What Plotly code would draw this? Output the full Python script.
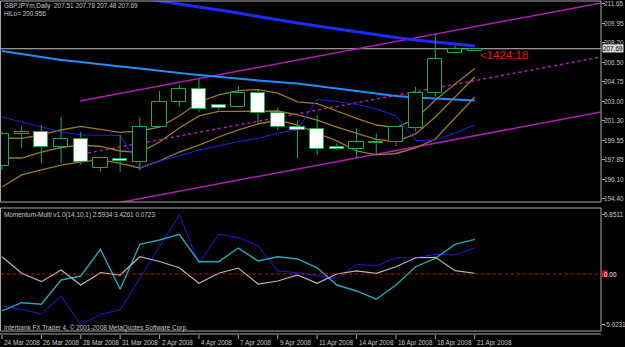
import plotly.graph_objects as go

# ---------------- data ----------------
dates = ["24 Mar 2008", "25 Mar 2008", "26 Mar 2008", "27 Mar 2008", "28 Mar 2008", "30 Mar 2008",
         "31 Mar 2008", "1 Apr 2008", "2 Apr 2008", "3 Apr 2008", "4 Apr 2008", "6 Apr 2008",
         "7 Apr 2008", "8 Apr 2008", "9 Apr 2008", "10 Apr 2008", "11 Apr 2008", "13 Apr 2008",
         "14 Apr 2008", "15 Apr 2008", "16 Apr 2008", "17 Apr 2008", "18 Apr 2008", "20 Apr 2008",
         "21 Apr 2008"]
open_ = [197.31, 200.14, 200.30, 198.97, 199.68, 197.11, 197.93, 197.69, 200.79, 203.00, 204.10, 202.71,
         202.51, 203.75, 201.98, 200.74, 200.56, 198.97, 198.82, 199.32, 199.41, 200.65, 203.75, 207.29, 207.51]
high = [200.32, 200.88, 200.94, 201.68, 200.35, 198.02, 200.06, 201.62, 203.95, 204.48, 205.01, 202.75,
        204.39, 204.10, 202.51, 201.32, 201.83, 199.32, 200.65, 200.21, 200.85, 204.33, 209.00, 207.96, 207.78]
low = [196.96, 198.88, 197.55, 197.55, 197.40, 196.81, 196.81, 196.90, 200.75, 202.56, 202.12, 202.27,
       202.47, 201.09, 200.44, 197.99, 198.29, 198.73, 197.99, 198.29, 199.08, 200.35, 203.45, 207.25, 207.48]
close = [200.15, 200.35, 198.97, 199.68, 197.64, 197.99, 197.73, 200.79, 203.00, 204.10, 202.33, 202.47,
         203.80, 201.98, 200.74, 200.50, 198.79, 198.79, 199.41, 199.46, 200.74, 203.75, 206.76, 207.64, 207.69]

ma_fast = [199.79, 199.75, 200.06, 200.50, 200.81, 200.54, 200.28, 200.41, 200.76, 201.74, 202.98, 203.60,
           203.99, 204.08, 203.77, 202.98, 202.84, 202.18, 201.52, 200.94, 200.72, 201.47, 203.15, 204.57, 205.94]
ma_mid = [198.02, 198.02, 198.55, 198.95, 199.17, 199.04, 198.64, 198.51, 199.44, 200.68, 201.74, 202.14,
          202.14, 202.18, 202.18, 201.83, 201.38, 200.76, 200.19, 199.66, 199.48, 200.15, 201.65, 203.42, 205.19]
ma_slow = [195.46, 196.52, 196.96, 197.40, 197.67, 197.85, 197.54, 197.14, 197.76, 198.55, 199.17, 199.88,
           200.50, 201.03, 201.38, 200.94, 200.23, 199.53, 198.64, 198.29, 198.42, 198.91, 199.70, 201.56, 203.42]
ma_long = [207.49, 207.23, 206.96, 206.69, 206.52, 206.30, 206.12, 205.94, 205.72, 205.54, 205.37, 205.19,
           205.01, 204.88, 204.75, 204.61, 204.39, 204.17, 203.95, 203.73, 203.51, 203.38, 203.29, 203.20, 203.11]
ma_blue_start = 6
ma_blue = [212.45, 212.18, 211.92, 211.69, 211.43, 211.12, 210.85, 210.54, 210.23, 209.97, 209.70, 209.44,
           209.17, 208.91, 208.69, 208.46, 208.29, 208.11, 207.93]
hilo = [201.65, 201.21, 200.76, 200.32, 200.06, 200.06, 200.01, 197.14, 197.76, 198.20, 198.73, 199.08,
        199.48, 199.75, 200.23, 200.50, 203.20, 203.02, 202.76, 202.36, 201.74, 199.57, 199.61, 200.23, 200.956]

chan_upper_x, chan_upper = [3.96, 30.41], [203.07, 211.74]
chan_mid_x, chan_mid = [4.37, 30.41], [198.46, 206.96]
chan_low_x, chan_low = [4.0, 30.41], [193.44, 202.09]

mom_gray = [1.71, 0.07, -0.76, 0.40, -1.09, 0.13, -0.10, 1.71, 1.24, 0.62, -0.92, 0.07, 0.59, -0.99, -0.69,
            -0.10, -0.92, 0.0, 0.30, 0.07, 0.72, 1.61, 1.65, 0.33, 0.0723]
mom_teal = [-3.66, -2.84, -3.00, -0.59, -0.20, 2.44, -1.51, 2.94, 3.37, 3.93, 1.22, 1.22, 2.57, 1.29, 1.71,
            1.49, 0.62, -1.09, -1.68, -2.50, -1.09, 0.72, 1.55, 2.94, 3.4261]
mom_blue = [-3.17, -3.50, -3.96, -2.15, -5.0231, -3.99, -3.56, -0.40, 2.70, 5.8511, 1.06, 3.93, 3.60, 2.80,
            0.30, 0.13, -0.17, -0.50, 0.96, 0.79, 1.61, 1.61, 1.95, 1.88, 2.5934]

price_ticks = [211.65, 209.95, 208.20, 206.50, 204.75, 203.00, 201.30, 199.55, 197.85, 196.10, 194.40]
ind_ticks = [5.8511, 0.0, -5.0231]
ind_tick_text = ["5.8511", "0.00", "-5.0231"]
hilo_label = "HiLo= 200.956"
timer_text = "<1424:18"
ind_title = "Momentum-Multi v1.0(14,10,1) 2.5934 3.4261 0.0723"
copyright_text = "Interbank FX Trader 4, \u00a9 2001-2008 MetaQuotes Software Corp."

# ---------------- layout constants ----------------
W, H = 625, 347
X0, X1 = 1, 601
MAIN_TOP, MAIN_BOT = 1, 202
IND_TOP, IND_BOT = 208, 331


def fx(p):
    return p / W


def fy(p):
    return 1 - p / H


XR = [-0.05, 30.41]
MAIN_R = [194.127, 211.915]
IND_R = [-5.644, 6.535]

GREEN = "#1faa48"
BROWN = "#9c7a26"
MAG = "#b01cb0"
FG = "#c8c8c8"
FONT = "Liberation Sans"
FS = 6.4

n = len(close)
idx = list(range(n))

fig = go.Figure()

# channel lines
fig.add_trace(go.Scatter(x=chan_upper_x, y=chan_upper, mode="lines", line=dict(color=MAG, width=1.5)))
fig.add_trace(go.Scatter(x=chan_low_x, y=chan_low, mode="lines", line=dict(color=MAG, width=1.5)))
fig.add_trace(go.Scatter(x=chan_mid_x, y=chan_mid, mode="lines", line=dict(color=MAG, width=1.5, dash="dot")))

# moving averages
fig.add_trace(go.Scatter(x=idx, y=ma_long, mode="lines", line=dict(color="#1e8fff", width=2)))
fig.add_trace(go.Scatter(x=idx[ma_blue_start:], y=ma_blue, mode="lines", line=dict(color="#1a2cff", width=3)))
for s in (ma_fast, ma_mid, ma_slow):
    fig.add_trace(go.Scatter(x=idx, y=s, mode="lines", line=dict(color=BROWN, width=1.3)))
fig.add_trace(go.Scatter(x=idx, y=hilo, mode="lines", line=dict(color="#2020e8", width=1)))

# candles (on overlay axis so they are drawn above the lines)
bull = [c >= o for o, c in zip(open_, close)]
base = [min(o, c) for o, c in zip(open_, close)]
hgt = [max(abs(c - o), 0.01) for o, c in zip(open_, close)]
fig.add_trace(go.Bar(x=idx, y=hgt, base=base, width=0.72,
                     marker=dict(color=["#000000" if b else "#ffffff" for b in bull],
                                 line=dict(color=GREEN, width=1)),
                     xaxis="x", yaxis="y3"))
wx, wy = [], []
for i in idx:
    top = max(open_[i], close[i])
    bot = min(open_[i], close[i])
    wx += [i, i, None, i, i, None]
    wy += [high[i], top, None, bot, low[i], None]
fig.add_trace(go.Scatter(x=wx, y=wy, mode="lines", line=dict(color=GREEN, width=1),
                         xaxis="x", yaxis="y3", connectgaps=False))

# momentum panel
fig.add_trace(go.Scatter(x=idx, y=mom_blue, mode="lines", line=dict(color="#2418d8", width=1),
                         xaxis="x2", yaxis="y2"))
fig.add_trace(go.Scatter(x=idx, y=mom_teal, mode="lines", line=dict(color="#20a8b4", width=1.4),
                         xaxis="x2", yaxis="y2"))
fig.add_trace(go.Scatter(x=idx, y=mom_gray, mode="lines", line=dict(color="#b8b8b8", width=1.2),
                         xaxis="x2", yaxis="y2"))

shapes = []
# bid line
shapes.append(dict(type="line", xref="paper", yref="y", x0=fx(X0), x1=fx(X1), y0=close[-1], y1=close[-1],
                   line=dict(color="#c0c0c0", width=1), layer="below"))
# zero level
shapes.append(dict(type="line", xref="paper", yref="y2", x0=fx(X0), x1=fx(X1), y0=0, y1=0,
                   line=dict(color="#e00000", width=1, dash="dot")))
# frames
for t, b in ((MAIN_TOP, MAIN_BOT), (IND_TOP, IND_BOT)):
    shapes.append(dict(type="rect", xref="paper", yref="paper", x0=fx(X0 - 0.5), x1=fx(X1), y0=fy(b), y1=fy(t),
                       line=dict(color="#a8a8a8", width=1), layer="above"))
shapes.append(dict(type="line", xref="paper", yref="paper", x0=0, x1=fx(X1), y0=fy(334), y1=fy(334),
                   line=dict(color="#a8a8a8", width=1)))
# red zero marker
shapes.append(dict(type="rect", xref="paper", yref="paper", x0=fx(602), x1=fx(607.5), y0=fy(277), y1=fy(270.5),
                   fillcolor="#e00000", line=dict(width=0)))
# date ticks
for i in range(0, n, 2):
    shapes.append(dict(type="line", xref="x", yref="paper", x0=i, x1=i, y0=fy(335), y1=fy(339),
                       line=dict(color="#a8a8a8", width=1)))

ann = []


def txt(text, x, y, xref="paper", yref="paper", size=FS, color=FG, xanchor="left", yanchor="middle", **kw):
    ann.append(dict(text=text, x=x, y=y, xref=xref, yref=yref, showarrow=False, xanchor=xanchor,
                    yanchor=yanchor, font=dict(family=FONT, size=size, color=color), **kw))


header = "GBPJPYm,Daily  %.2f %.2f %.2f %.2f" % (open_[-1], high[-1], low[-1], close[-1])
txt(header, fx(2), fy(6.5))
txt(hilo_label, fx(2), fy(13.5))
txt(ind_title, fx(2), fy(214.5))
txt(copyright_text, fx(2), fy(328))
for p in price_ticks:
    txt("%.2f" % p, fx(602), p, yref="y")
txt("%.2f" % close[-1], fx(602), close[-1], yref="y", color="#000000", bgcolor="#d8d8d8", borderpad=0)
for v, t in zip(ind_ticks, ind_tick_text):
    txt(t, fx(602), v, yref="y2", color=("#ffffff" if v == 0 else FG))
for i in range(0, n, 2):
    txt(dates[i], i, fy(342.5), xref="x")
txt(timer_text, 24.15, 207.15, xref="x", yref="y", size=11.5, color="#e01818")

ax_common = dict(showgrid=False, zeroline=False, showline=False)
fig.update_layout(
    width=W, height=H, margin=dict(l=0, r=0, t=0, b=0),
    paper_bgcolor="#000000", plot_bgcolor="#000000", showlegend=False,
    bargap=0,
    xaxis=dict(domain=[fx(X0), fx(X1)], range=XR, visible=False, anchor="y", **ax_common),
    xaxis2=dict(domain=[fx(X0), fx(X1)], range=XR, visible=False, anchor="y2", matches="x", **ax_common),
    yaxis=dict(domain=[fy(MAIN_BOT), fy(MAIN_TOP)], range=MAIN_R, side="right", anchor="x",
               tickvals=price_ticks, ticks="outside", ticklen=3, tickcolor="#a8a8a8",
               showticklabels=False, **ax_common),
    yaxis3=dict(range=MAIN_R, overlaying="y", anchor="x", visible=False, **ax_common),
    yaxis2=dict(domain=[fy(IND_BOT), fy(IND_TOP)], range=IND_R, side="right", anchor="x2",
                tickvals=ind_ticks, ticks="outside", ticklen=3, tickcolor="#a8a8a8",
                showticklabels=False, **ax_common),
    shapes=shapes, annotations=ann,
)

fig.write_html("out.html")
